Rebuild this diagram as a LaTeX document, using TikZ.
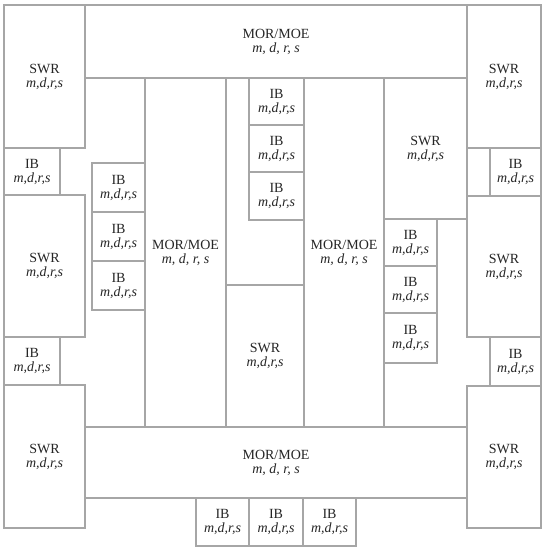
\documentclass[tikz,border=0pt]{standalone}
\usepackage{fontspec}
\setmainfont{Liberation Serif}

\begin{document}
\begin{tikzpicture}[x=1pt,y=-1pt,
  every node/.style={font=\fontsize{14}{14}\selectfont,align=center,text=black!85},
  room/.style={draw=black!85,double=black!35,double distance=1.1pt,line width=.85pt,fill=white,inner sep=0pt}]
\useasboundingbox (0,0) rectangle (543,548);
% outer ring
\node[room,minimum width=382pt,minimum height=73pt] (morT) at (276,41.5) {MOR/MOE\\\textit{m, d, r, s}};
\node[room,minimum width=382pt,minimum height=71pt] (morB) at (276,462.5) {MOR/MOE\\\textit{m, d, r, s}};
\node[room,minimum width=81pt,minimum height=143pt] (swrTL) at (44.5,76.5) {SWR\\\textit{m,d,r,s}};
\node[room,minimum width=56pt,minimum height=47pt] (ibL1) at (32,171.5) {IB\\\textit{m,d,r,s}};
\node[room,minimum width=81pt,minimum height=142pt] (swrL) at (44.5,266) {SWR\\\textit{m,d,r,s}};
\node[room,minimum width=56pt,minimum height=48pt] (ibL2) at (32,361) {IB\\\textit{m,d,r,s}};
\node[room,minimum width=81pt,minimum height=143pt] (swrBL) at (44.5,456.5) {SWR\\\textit{m,d,r,s}};
\node[room,minimum width=74pt,minimum height=143pt] (swrTR) at (504,76.5) {SWR\\\textit{m,d,r,s}};
\node[room,minimum width=51pt,minimum height=48pt] (ibR1) at (515.5,172) {IB\\\textit{m,d,r,s}};
\node[room,minimum width=74pt,minimum height=141pt] (swrR) at (504,266.5) {SWR\\\textit{m,d,r,s}};
\node[room,minimum width=51pt,minimum height=49pt] (ibR2) at (515.5,361.5) {IB\\\textit{m,d,r,s}};
\node[room,minimum width=74pt,minimum height=142pt] (swrBR) at (504,457) {SWR\\\textit{m,d,r,s}};
% bottom row
\node[room,minimum width=53pt,minimum height=48pt] (ibB1) at (222.5,522) {IB\\\textit{m,d,r,s}};
\node[room,minimum width=54pt,minimum height=48pt] (ibB2) at (276,522) {IB\\\textit{m,d,r,s}};
\node[room,minimum width=53pt,minimum height=48pt] (ibB3) at (329.5,522) {IB\\\textit{m,d,r,s}};
% inner block
\node[room,minimum width=81pt,minimum height=349pt] (morL) at (185.5,252.5) {MOR/MOE\\\textit{m, d, r, s}};
\node[room,minimum width=53pt,minimum height=49pt] (ibLa) at (118.5,187.5) {IB\\\textit{m,d,r,s}};
\node[room,minimum width=53pt,minimum height=49pt] (ibLb) at (118.5,236.5) {IB\\\textit{m,d,r,s}};
\node[room,minimum width=53pt,minimum height=49pt] (ibLc) at (118.5,285.5) {IB\\\textit{m,d,r,s}};
\node[room,minimum width=78pt,minimum height=207pt] (ctop) at (265,181.5) {};
\node[room,minimum width=55pt,minimum height=47pt] (ibCa) at (276.5,101.5) {IB\\\textit{m,d,r,s}};
\node[room,minimum width=55pt,minimum height=47pt] (ibCb) at (276.5,148.5) {IB\\\textit{m,d,r,s}};
\node[room,minimum width=55pt,minimum height=48pt] (ibCc) at (276.5,196) {IB\\\textit{m,d,r,s}};
\node[room,minimum width=78pt,minimum height=142pt] (swrC) at (265,356) {SWR\\\textit{m,d,r,s}};
\node[room,minimum width=80pt,minimum height=349pt] (morR) at (344,252.5) {MOR/MOE\\\textit{m, d, r, s}};
\node[room,minimum width=83pt,minimum height=141pt] (swrRi) at (425.5,148.5) {SWR\\\textit{m,d,r,s}};
\node[room,minimum width=53pt,minimum height=47pt] (ibRa) at (410.5,242.5) {IB\\\textit{m,d,r,s}};
\node[room,minimum width=53pt,minimum height=47pt] (ibRb) at (410.5,289.5) {IB\\\textit{m,d,r,s}};
\node[room,minimum width=53pt,minimum height=50pt] (ibRc) at (410.5,338) {IB\\\textit{m,d,r,s}};
\end{tikzpicture}
\end{document}
